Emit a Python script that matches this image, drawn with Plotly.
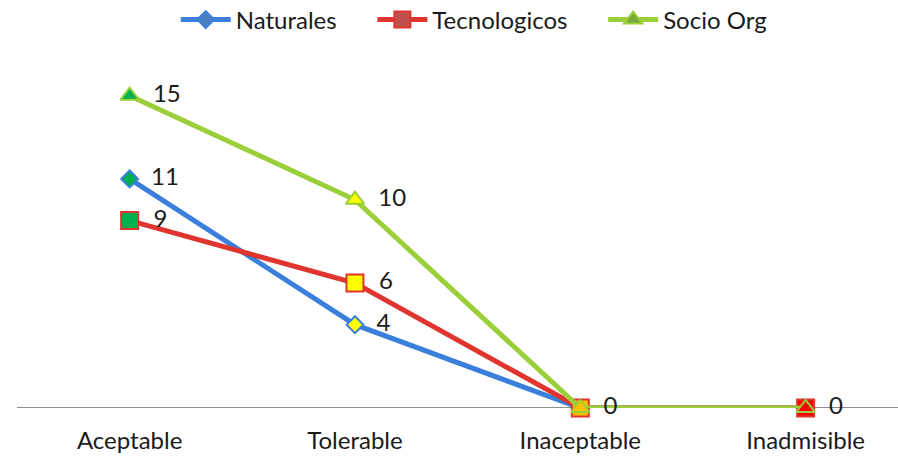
import plotly.graph_objects as go

categories = ["Aceptable", "Tolerable", "Inaceptable", "Inadmisible"]
naturales = [11, 4, 0, 0]
tecnologicos = [9, 6, 0, 0]
socio_org = [15, 10, 0, 0]
point_fills = ["#00B050", "#FFFF00", "#FFC000", "#FF0000"]

series = [
    ("Naturales", naturales, "#3A7FDB", "diamond", 13, "#4A7EC0"),
    ("Tecnologicos", tecnologicos, "#E0352F", "square", 17, "#C0504D"),
    ("Socio Org", socio_org, "#9BCF3A", "triangle-up", 16, "#77A83A"),
]

FONT = "Lato, 'Noto Sans', sans-serif"
FS = 24
fig = go.Figure()
for k, (name, vals, col, sym, size, legfill) in enumerate(series):
    texts = []
    for i, v in enumerate(vals):
        # avoid stacking identical labels where series coincide
        dup = any(s[1][i] == v for s in series[k + 1:])
        texts.append("" if dup else "  " + str(v))
    fig.add_trace(go.Scatter(
        x=categories, y=vals, mode="lines+markers+text", name=name,
        showlegend=False, cliponaxis=False,
        line=dict(color=col, width=5),
        marker=dict(symbol=sym, size=size, color=point_fills,
                    line=dict(color=col, width=2)),
        text=texts, textposition="middle right",
        textfont=dict(size=FS, color="#1a1a1a", family=FONT),
    ))
for name, vals, col, sym, size, legfill in series:
    fig.add_trace(go.Scatter(
        x=[None], y=[None], mode="lines+markers", name=name + "     ",
        line=dict(color=col, width=5),
        marker=dict(symbol=sym, size=size, color=legfill,
                    line=dict(color=col, width=2)),
    ))

fig.update_layout(
    width=898, height=456,
    margin=dict(l=17, r=0, t=54, b=48, autoexpand=False),
    paper_bgcolor="white", plot_bgcolor="white",
    font=dict(family=FONT, size=FS, color="#1a1a1a"),
    legend=dict(orientation="h", x=0.536, xanchor="center", y=1.096, yanchor="middle",
                font=dict(size=FS, family=FONT), itemwidth=50),
    xaxis=dict(range=[-0.5, 3.41], showgrid=False, showline=False, zeroline=False,
               ticks="", tickfont=dict(size=FS, family=FONT), automargin=False,
               ticklabelstandoff=16),
    yaxis=dict(range=[0, 17], showgrid=False, zeroline=False, showline=False,
               showticklabels=False, automargin=False),
    shapes=[dict(type="line", xref="paper", yref="y", x0=0, x1=1, y0=0, y1=0,
                 line=dict(color="#8c8c8c", width=2), layer="below")],
)
fig.write_html("out.html", config={"displayModeBar": False},
               post_script="document.body.style.margin='0';document.body.style.overflow='hidden';")
